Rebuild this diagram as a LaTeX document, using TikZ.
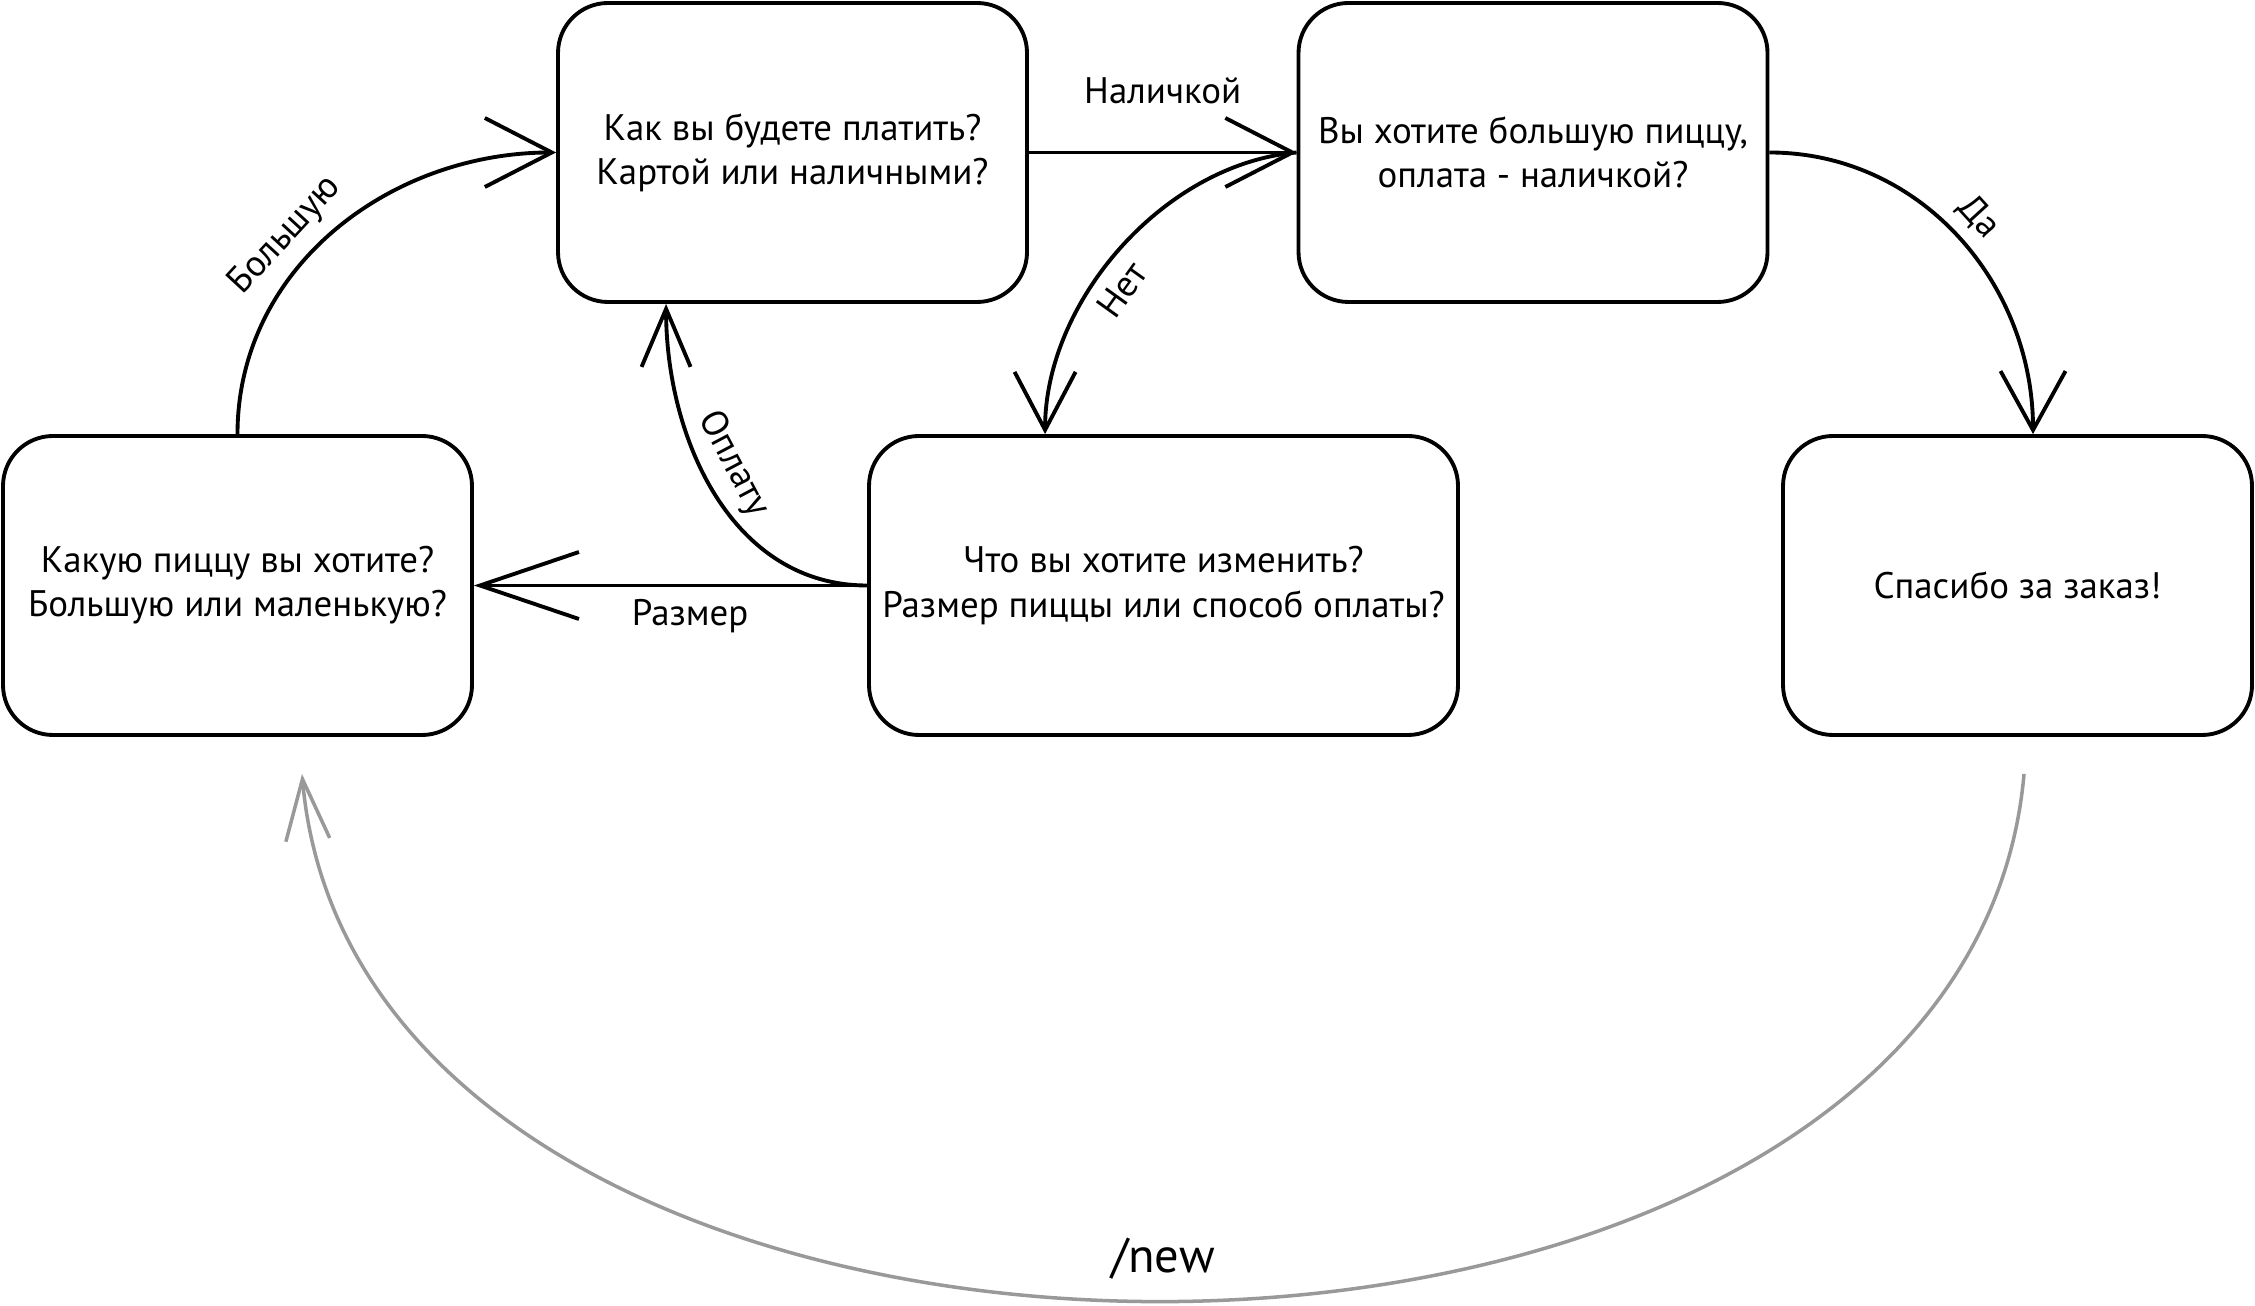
\documentclass[tikz,border=0pt]{standalone}
\usepackage{fontspec}
\setmainfont{PT Sans}
\usetikzlibrary{arrows.meta}
\definecolor{loopgray}{RGB}{153,153,153}
\tikzset{
  state/.style={draw, line width=1.1pt, rounded corners=0.5cm, minimum width=4.69cm,
    minimum height=2.99cm, align=center, font=\fontsize{10.5pt}{12.6pt}\selectfont},
  trans/.style={line width=1.1pt},
  barb/.style 2 args={-{Straight Barb[length=#1,width=#2]}},
  lbl/.style={font=\fontsize{10.5pt}{12.6pt}\selectfont},
}

\begin{document}
\begin{tikzpicture}
\useasboundingbox (0,0) rectangle (22.55,-13.06);

% states
\node[state] (pay) at (7.925,-1.525) {Как вы будете платить?\\Картой или наличными?};
\node[state] (confirm) at (15.33,-1.525) {Вы хотите большую пиццу,\\оплата - наличкой?};
\node[state] (size) at (2.375,-5.855) {Какую пиццу вы хотите?\\Большую или маленькую?};
\node[state, minimum width=5.89cm] (change) at (11.635,-5.855) {Что вы хотите изменить?\\Размер пиццы или способ оплаты?};
\node[state] (thanks) at (20.175,-5.855) {Спасибо за заказ!};

% free ends
\coordinate (paybot) at ([xshift=1.1cm]pay.south west);
\coordinate (changetop) at ([xshift=1.78cm]change.north west);
\coordinate (thankstop) at ([xshift=0.155cm]thanks.north);
\coordinate (newfrom) at ([xshift=0.065cm,yshift=-0.37cm]thanks.south);
\coordinate (newto) at ([xshift=0.645cm,yshift=-0.37cm]size.south);

% transitions
\draw[trans, barb={6.7mm}{6.9mm}] (pay.east) -- node[lbl, above=0.35cm] {Наличкой} (confirm.west);
\draw[trans, barb={5.8mm}{6.1mm}] (confirm.west) to[out=185,in=90,looseness=0.9] node[lbl, pos=0.58, sloped, below] {Нет} (changetop);
\draw[trans, barb={5.9mm}{6.5mm}] (confirm.east) to[out=0,in=90] node[lbl, pos=0.5, sloped, above] {Да} (thankstop);
\draw[trans, barb={6.7mm}{6.9mm}] (size.north) to[out=90,in=180] node[lbl, pos=0.42, sloped, above] {Большую} (pay.west);
\draw[trans, barb={5.8mm}{4.9mm}] (change.west) to[out=180,in=-90] node[lbl, pos=0.55, sloped, above] {Оплату} (paybot);
\draw[trans, barb={9.9mm}{6.7mm}] (change.west) -- node[lbl, pos=0.45, below] {Размер} (size.east);

% restart
\draw[line width=1pt, loopgray, barb={6.1mm}{4.4mm}] (newfrom) to[out=-95,in=-85,looseness=1.05]
  node[above=0.08cm, text=black, font=\fontsize{13.8pt}{16pt}\selectfont] {/new} (newto);

\end{tikzpicture}
\end{document}
